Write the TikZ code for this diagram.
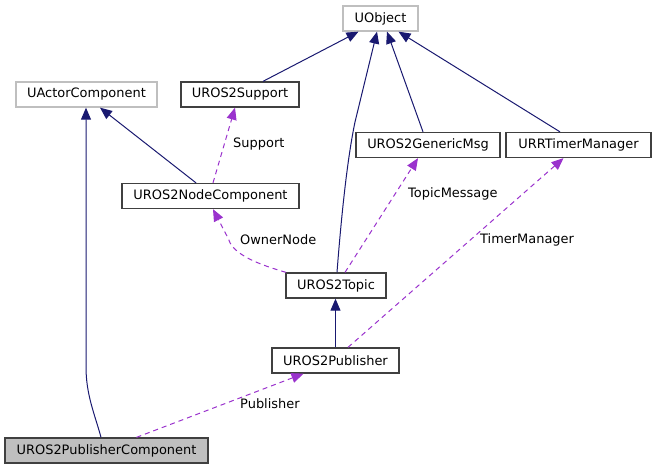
\documentclass[tikz,border=0pt]{standalone}
\usepackage{fontspec}
\setmainfont{DejaVu Sans}
\usetikzlibrary{arrows.meta}
\definecolor{navy}{HTML}{191970}
\definecolor{dpurple}{HTML}{9A32CD}
\definecolor{boxgray}{HTML}{BFBFBF}
\begin{document}
\begin{tikzpicture}[x=1pt,y=-1pt,
  every node/.style={font=\fontsize{12.95}{15}\selectfont, inner sep=0pt},
  cls/.style={draw=black!75, line width=1.3pt, fill=white, minimum height=25pt, anchor=center},
  ext/.style={draw=boxgray, line width=1.3pt, fill=white, minimum height=25pt, anchor=center},
  inh/.style={draw=navy, line width=1pt, -{Triangle[length=12pt,width=10pt]}},
  use/.style={draw=dpurple, line width=1pt, dash pattern=on 5pt off 4pt, -{Triangle[length=12pt,width=10pt]}},
  lbl/.style={anchor=west, text=black}]
\useasboundingbox (0,0) rectangle (656,469);
% nodes
\node[ext, minimum width=75pt] (obj) at (380.5,18.5) {UObject};
\node[ext, minimum width=141pt] (ac) at (86.5,94.5) {UActorComponent};
\node[cls, minimum width=118pt] (sup) at (240,94.5) {UROS2Support};
\node[cls, minimum width=177pt] (nc) at (210.5,196) {UROS2NodeComponent};
\node[cls, minimum width=144pt] (gm) at (428,145) {UROS2GenericMsg};
\node[cls, minimum width=145pt] (tm) at (578.5,145) {URRTimerManager};
\node[cls, minimum width=100pt] (top) at (336,285.5) {UROS2Topic};
\node[cls, minimum width=127pt] (pub) at (335.5,360.5) {UROS2Publisher};
\node[cls, fill=boxgray, minimum width=203pt] (pc) at (106.5,450.5) {UROS2PublisherComponent};
% inheritance
\draw[inh] ([xshift=23]sup.north) -- ([xshift=-22]obj.south);
\draw[inh] ([xshift=-14.5]nc.north) -- ([xshift=13.5]ac.south);
\draw[inh] ([xshift=-5.5]pc.north) .. controls (95,415) and (86,395) .. (86,367) -- ([xshift=-0.5]ac.south);
\draw[inh] ([xshift=1]top.north) .. controls (341,220) and (347,160) .. (355,122) -- ([xshift=-3.5]obj.south);
\draw[inh] ([xshift=-5]gm.north) -- ([xshift=6.5]obj.south);
\draw[inh] ([xshift=-18.5]tm.north) -- ([xshift=18]obj.south);
\draw[inh] (pub.north) -- (pub.north |- top.south);
% usage
\draw[use] ([xshift=2.5]nc.north) -- ([xshift=-5]sup.south);
\node[lbl] (lsup) at (233,144) {Support};
\draw[use] ([xshift=-50]top.north) .. controls (250,262) and (232,252) .. (228,238) -- ([xshift=2.5]nc.south);
\node[lbl] (lown) at (240,240) {OwnerNode};
\draw[use] ([xshift=9]top.north) -- ([xshift=-10]gm.south);
\node[lbl] (ltop) at (408,194) {TopicMessage};
\draw[use] ([xshift=12.5]pub.north) -- ([xshift=-15]tm.south);
\node[lbl] (ltim) at (480,240) {TimerManager};
\draw[use] ([xshift=30]pc.north) -- ([xshift=-32]pub.south);
\node[lbl] (lpub) at (240,404) {Publisher};
\end{tikzpicture}
\end{document}
